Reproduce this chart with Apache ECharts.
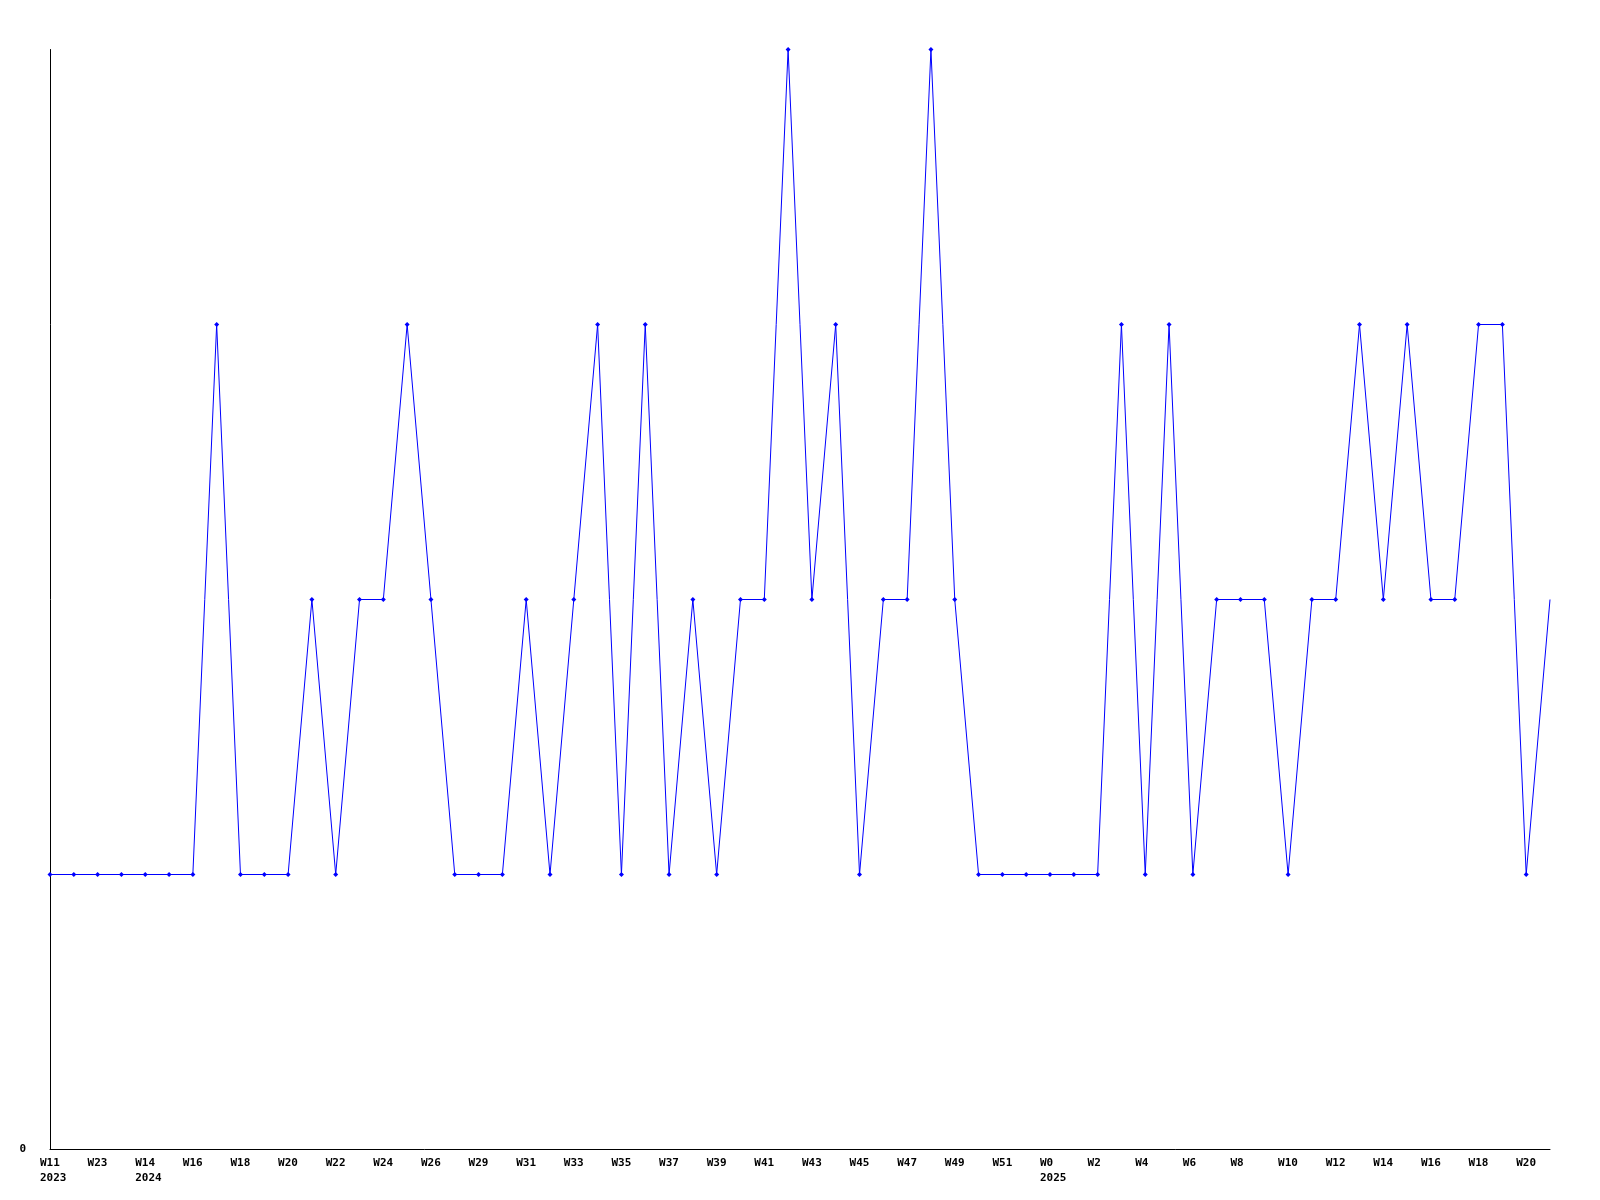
<!DOCTYPE html>
<html>
<head>
<meta charset="utf-8">
<script src="https://cdn.jsdelivr.net/npm/echarts@6/dist/echarts.min.js"></script>
<style>html,body{margin:0;padding:0;background:#fff}#c{width:1600px;height:1200px}</style>
</head>
<body>
<div id="c"></div>
<script>
const categories = [
  'W11\n2023','W12','W23','W13','W14\n2024','W15','W16','W17','W18','W19',
  'W20','W21','W22','W23','W24','W25','W26','W28','W29','W30',
  'W31','W32','W33','W34','W35','W36','W37','W38','W39','W40',
  'W41','W42','W43','W44','W45','W46','W47','W48','W49','W50',
  'W51','W52','W0\n2025','W1','W2','W3','W4','W5','W6','W7',
  'W8','W9','W10','W11','W12','W13','W14','W15','W16','W17',
  'W18','W19','W20','W21'
];
const values = [
  1,1,1,1,1,1,1,3,1,1,
  1,2,1,2,2,3,2,1,1,1,
  2,1,2,3,1,3,1,2,1,2,
  2,4,2,3,1,2,2,4,2,1,
  1,1,1,1,1,3,1,3,1,2,
  2,2,1,2,2,3,2,3,2,2,
  3,3,1,2
];
const yTickLabels = ['0'];

const chart = echarts.init(document.getElementById('c'), null, {renderer: 'canvas'});
const lastIdx = values.length - 1;
chart.setOption({
  animation: false,
  backgroundColor: '#ffffff',
  grid: {left: 50, right: 50, top: 49.5, bottom: 50.5},
  xAxis: {
    type: 'category',
    data: categories,
    boundaryGap: false,
    axisLine: {show: true, lineStyle: {color: '#000', width: 1}},
    axisTick: {show: false},
    splitLine: {show: false},
    axisLabel: {
      interval: function (i) { return i % 2 === 0; },
      hideOverlap: false,
      color: '#000',
      fontFamily: 'DejaVu Sans Mono',
      fontWeight: 'bold',
      fontSize: 11,
      lineHeight: 15,
      margin: 6,
      align: 'center',
      formatter: function (v) {
        return v.split('\n').map(function (s) { return '{a|' + s + '}'; }).join('\n');
      },
      rich: {
        a: {
          width: 20,
          align: 'left',
          color: '#000',
          fontFamily: 'DejaVu Sans Mono',
          fontWeight: 'bold',
          fontSize: 11,
          lineHeight: 15
        }
      }
    }
  },
  yAxis: {
    type: 'value',
    min: 0,
    max: 4,
    interval: 1,
    axisLine: {show: true, lineStyle: {color: '#000', width: 1}},
    axisTick: {show: false},
    splitLine: {show: false},
    axisLabel: {
      color: '#000',
      fontFamily: 'DejaVu Sans Mono',
      fontWeight: 'bold',
      fontSize: 11,
      margin: 24,
      formatter: function (v) { return v === 0 ? yTickLabels[0] : ''; }
    }
  },
  series: [{
    type: 'line',
    data: values,
    symbol: function (v, p) { return p.dataIndex === lastIdx ? 'none' : 'diamond'; },
    symbolSize: 5,
    showAllSymbol: true,
    lineStyle: {color: '#0000ff', width: 1},
    itemStyle: {color: '#0000ff'},
    emphasis: {disabled: true}
  }]
});
</script>
</body>
</html>
